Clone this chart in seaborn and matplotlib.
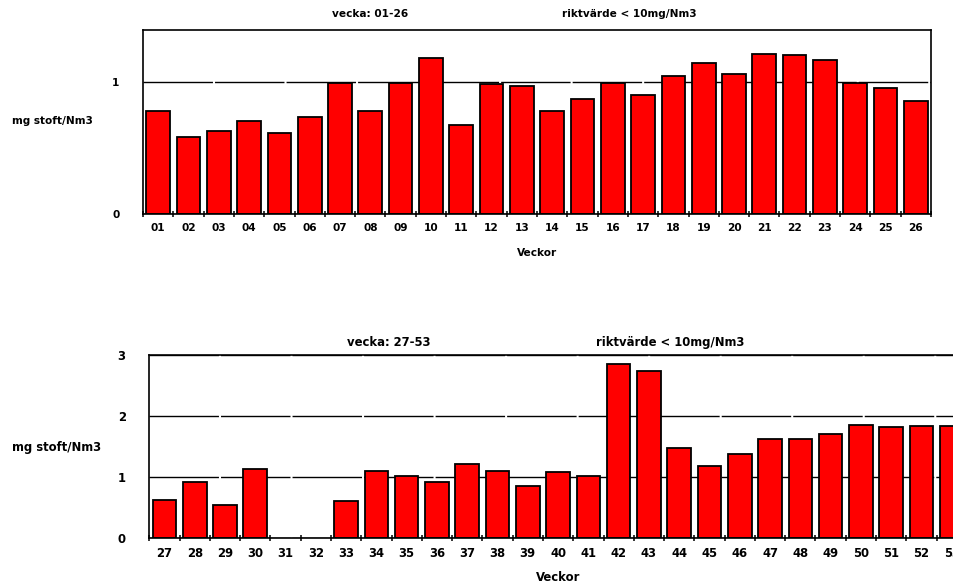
import numpy as np
import pandas as pd
import matplotlib
matplotlib.use("Agg")
import matplotlib.pyplot as plt
import seaborn as sns
from matplotlib.ticker import FixedLocator

# veckovärden, stoft mg/Nm3
weeks_h1 = ['01', '02', '03', '04', '05', '06', '07', '08', '09', '10', '11', '12', '13',
            '14', '15', '16', '17', '18', '19', '20', '21', '22', '23', '24', '25', '26']
dust_h1 = [0.78, 0.58, 0.63, 0.70, 0.61, 0.73, 0.99, 0.78, 0.99, 1.18, 0.67, 0.98, 0.97,
           0.78, 0.87, 0.99, 0.90, 1.04, 1.14, 1.06, 1.21, 1.20, 1.16, 0.99, 0.95, 0.85]

weeks_h2 = ['27', '28', '29', '30', '31', '32', '33', '34', '35', '36', '37', '38', '39', '40',
            '41', '42', '43', '44', '45', '46', '47', '48', '49', '50', '51', '52', '53']
dust_h2 = [0.63, 0.92, 0.54, 1.13, np.nan, np.nan, 0.61, 1.10, 1.02, 0.92, 1.21, 1.10, 0.86, 1.08,
           1.02, 2.85, 2.74, 1.47, 1.18, 1.38, 1.63, 1.63, 1.70, 1.85, 1.81, 1.83, 1.83]

df1 = pd.DataFrame({'vecka': weeks_h1, 'stoft': dust_h1})
df2 = pd.DataFrame({'vecka': weeks_h2, 'stoft': dust_h2})

sns.set_style("white")
plt.rcParams['font.family'] = ['DejaVu Sans']
plt.rcParams['font.weight'] = 'bold'
plt.rcParams['text.color'] = 'black'
plt.rcParams['axes.labelcolor'] = 'black'
plt.rcParams['xtick.color'] = 'black'
plt.rcParams['ytick.color'] = 'black'

fig = plt.figure(figsize=(9.54, 5.84), dpi=100)
ax1 = fig.add_axes([0.1499, 0.6336, 0.826, 0.315])
ax2 = fig.add_axes([0.1565, 0.0783, 0.857, 0.3144])


def draw(ax, df, order, ymax, majors, minors, fs, xpad):
    sns.barplot(data=df, x='vecka', y='stoft', order=order, color='#ff0000', saturation=1,
                edgecolor='black', linewidth=1.3, width=0.78, errorbar=None, ax=ax, zorder=2)
    n = len(order)
    ax.set_xlim(-0.5, n - 0.5)
    ax.set_ylim(0, ymax)
    ax.yaxis.set_major_locator(FixedLocator(majors))
    ax.yaxis.set_minor_locator(FixedLocator(minors))
    ax.set_yticklabels([str(m) for m in majors])
    ax.xaxis.set_minor_locator(FixedLocator(np.arange(-0.5, n, 1)))
    ax.tick_params(axis='y', which='major', direction='out', length=6, width=1.1,
                   pad=11, labelsize=fs)
    ax.tick_params(axis='y', which='minor', direction='inout', length=5, width=1.1)
    ax.tick_params(axis='x', which='major', length=0, pad=6.5, labelsize=fs)
    ax.tick_params(axis='x', which='minor', direction='inout', length=4, width=1.1, bottom=True)
    for s in ax.spines.values():
        s.set_color('black')
        s.set_linewidth(1.2)
    ax.grid(axis='y', which='major', color='black', linewidth=1.0, linestyle=(0, (50, 1.5)))
    ax.set_axisbelow(True)
    ax.set_ylabel('')
    ax.set_xlabel('Veckor', fontsize=fs, fontweight='bold', labelpad=xpad)


draw(ax1, df1, weeks_h1, 1.39, [0, 1], [0.5], 7.6, 11)
draw(ax2, df2, weeks_h2, 3.0, [0, 1, 2, 3], [0.5, 1.5, 2.5], 8.4, 8)

fig.text(0.388, 0.976, 'vecka: 01-26', ha='center', va='center', fontsize=7.6, fontweight='bold')
fig.text(0.660, 0.976, 'riktvärde < 10mg/Nm3', ha='center', va='center', fontsize=7.6, fontweight='bold')
fig.text(0.408, 0.4135, 'vecka: 27-53', ha='center', va='center', fontsize=8.4, fontweight='bold')
fig.text(0.702, 0.4135, 'riktvärde < 10mg/Nm3', ha='center', va='center', fontsize=8.4, fontweight='bold')
fig.text(0.0545, 0.793, 'mg stoft/Nm3', ha='center', va='center', fontsize=7.6, fontweight='bold')
fig.text(0.0598, 0.2334, 'mg stoft/Nm3', ha='center', va='center', fontsize=8.4, fontweight='bold')

fig.savefig('out.png', dpi=100)
